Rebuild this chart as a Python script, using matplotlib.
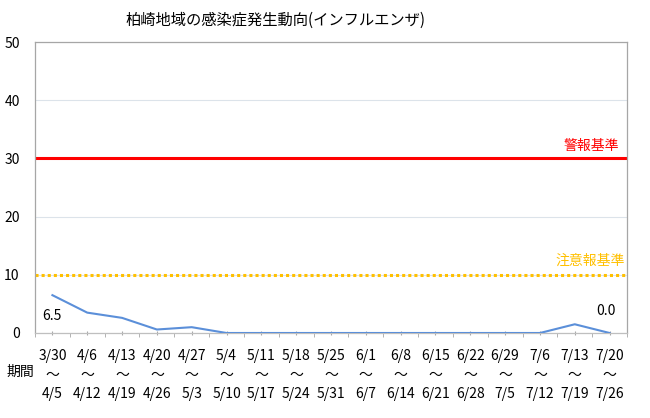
import matplotlib
matplotlib.use("Agg")
import matplotlib.pyplot as plt
import numpy as np

plt.rcParams['font.family'] = ['Noto Sans CJK JP', 'DejaVu Sans']

start_dates = ["3/30", "4/6", "4/13", "4/20", "4/27", "5/4", "5/11", "5/18", "5/25",
               "6/1", "6/8", "6/15", "6/22", "6/29", "7/6", "7/13", "7/20"]
end_dates = ["4/5", "4/12", "4/19", "4/26", "5/3", "5/10", "5/17", "5/24", "5/31",
             "6/7", "6/14", "6/21", "6/28", "7/5", "7/12", "7/19", "7/26"]
values = [6.5, 3.5, 2.6, 0.6, 1.0, 0, 0, 0, 0, 0, 0, 0, 0, 0, 0, 1.5, 0.0]
warning_level = 30
advisory_level = 10
title = "柏崎地域の感染症発生動向(インフルエンザ)"

fig = plt.figure(figsize=(6.5, 4.18), dpi=100)
ax = fig.add_axes([35/650, 85/418, 592/650, 291/418])

n = len(values)
x = np.arange(n)
ax.set_xlim(-0.5, n - 0.5)
ax.set_ylim(0, 50)

ax.plot(x, values, color="#5B8FD9", lw=1.5, zorder=3)
ax.plot([-0.5, n - 0.5], [warning_level] * 2, color="#FF0000", lw=2.2, zorder=2)
ax.plot([-0.5, n - 0.5], [advisory_level] * 2, color="#FFC000", lw=2.2,
        linestyle=(0, (1, 1)), zorder=2)

ax.text(n - 0.72, warning_level + 1.0, "警報基準", color="#FF0000", fontsize=10,
        ha="right", va="bottom")
ax.text(n - 0.55, advisory_level + 1.2, "注意報基準", color="#FFC000", fontsize=10,
        ha="right", va="bottom")

ax.text(x[0], values[0] - 3.5, f"{values[0]:.1f}", fontsize=10, ha="center", va="center")
ax.text(x[-1] - 0.1, values[-1] + 3.8, f"{values[-1]:.1f}", fontsize=10, ha="center", va="center")

ax.set_yticks([0, 10, 20, 30, 40, 50])
ax.tick_params(axis="y", length=0, pad=11, labelsize=10)
ax.yaxis.grid(True, color="#DCE3EA", lw=0.8)
ax.set_axisbelow(True)

ax.set_xticks(x)
ax.set_xticklabels([f"{s}\n～\n{e}" for s, e in zip(start_dates, end_dates)],
                   fontsize=10, linespacing=1.45)
ax.set_xticks(np.arange(-0.5, n, 1.0), minor=True)
ax.tick_params(axis="x", which="major", length=3, direction="inout", pad=10, color="#A6A6A6")
ax.tick_params(axis="x", which="minor", length=3, direction="out", color="#A6A6A6")

for s in ax.spines.values():
    s.set_color("#A6A6A6")
    s.set_linewidth(0.9)
ax.spines["bottom"].set_color("#BFBFBF")

fig.text(20/650, 1 - 372/418, "期間", fontsize=10, ha="center", va="center")
fig.text(275/650, 1 - 20/418, title, fontsize=11, ha="center", va="center")

fig.savefig("out.png", dpi=100)
